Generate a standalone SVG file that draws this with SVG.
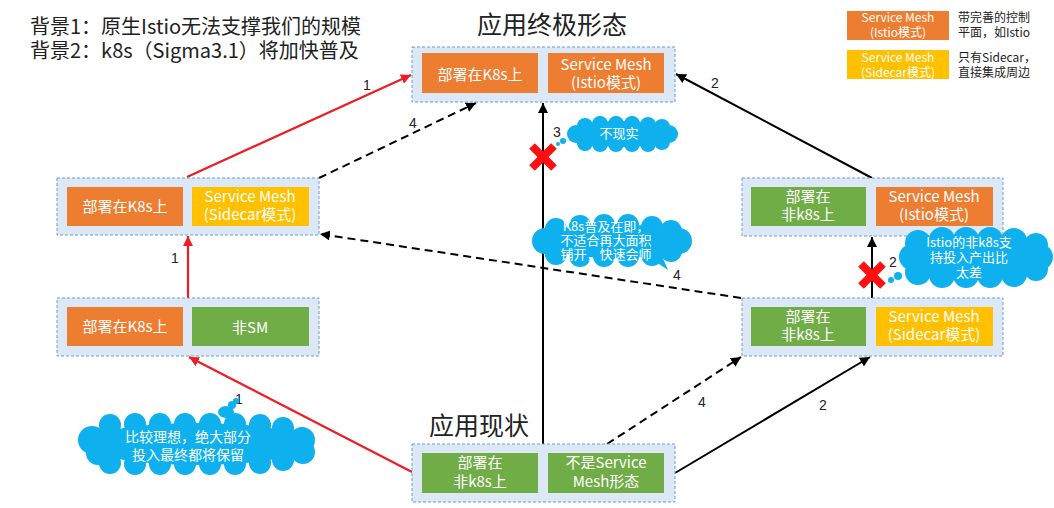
<svg xmlns="http://www.w3.org/2000/svg" width="1054" height="508" viewBox="0 0 1054 508">
<defs>
<style>
text{font-family:"Noto Sans CJK SC","Noto Sans",sans-serif;}
.wrap{fill:#dce8f6;stroke:#6a9fd4;stroke-width:1;stroke-dasharray:3,2;}
.or{fill:#ed7d31;}
.ye{fill:#ffc000;}
.gr{fill:#70ad47;}
.bt{fill:#fff;font-size:15px;text-anchor:middle;}
.ct{fill:#fff;font-size:13px;text-anchor:middle;}
.cloud{fill:#0fb0ee;}
.lbl{font-family:"Liberation Sans",Arial,sans-serif;font-size:14px;fill:#222;text-anchor:middle;}
.title{font-size:25px;fill:#222;text-anchor:middle;}
.red{stroke:#ee1c24;stroke-width:2.2;fill:none;}
.blk{stroke:#000;stroke-width:2;fill:none;}
.dsh{stroke:#000;stroke-width:2;fill:none;stroke-dasharray:8,5;}
.xx{stroke:#ff1010;stroke-width:8;}
</style>
<marker id="ar" viewBox="0 0 10 10" refX="10" refY="5" markerWidth="10" markerHeight="10" markerUnits="userSpaceOnUse" orient="auto"><path d="M0,0 L10,5 L0,10 z" fill="#ee1c24"/></marker>
<marker id="ab" viewBox="0 0 10 10" refX="10" refY="5" markerWidth="10" markerHeight="10" markerUnits="userSpaceOnUse" orient="auto"><path d="M0,0 L10,5 L0,10 z" fill="#000"/></marker>
</defs>
<rect width="1054" height="508" fill="#fff"/>

<g id="background-text">
<text x="30" y="34" font-size="20" fill="#222">背景1：原生Istio无法支撑我们的规模</text>
<text x="30" y="58" font-size="20" fill="#222">背景2：k8s（Sigma3.1）将加快普及</text>
</g>

<g id="legend">
<rect class="or" x="847" y="11" width="102" height="29"/>
<text x="898" y="22" fill="#fff" font-size="12" text-anchor="middle">Service Mesh</text>
<text x="898" y="37" fill="#fff" font-size="12" text-anchor="middle">(Istio模式)</text>
<text x="958" y="22" fill="#222" font-size="12">带完善的控制</text>
<text x="958" y="37" fill="#222" font-size="12">平面，如Istio</text>
<rect class="ye" x="847" y="50" width="102" height="29"/>
<text x="898" y="62" fill="#fff" font-size="12" text-anchor="middle">Service Mesh</text>
<text x="898" y="77" fill="#fff" font-size="12" text-anchor="middle">(Sidecar模式)</text>
<text x="958" y="62" fill="#222" font-size="12">只有Sidecar，</text>
<text x="958" y="77" fill="#222" font-size="12">直接集成周边</text>
</g>

<g id="connectors">
<line class="red" x1="187" y1="177" x2="411" y2="75" marker-end="url(#ar)"/>
<line class="dsh" x1="319" y1="178" x2="476" y2="103" marker-end="url(#ab)"/>
<line class="blk" x1="872" y1="178" x2="676" y2="74" marker-end="url(#ab)"/>
<line class="blk" x1="543" y1="444" x2="543" y2="103" marker-end="url(#ab)"/>
<line class="blk" x1="872" y1="298" x2="872" y2="237" marker-end="url(#ab)"/>
<line class="dsh" x1="741" y1="298" x2="320" y2="234" marker-end="url(#ab)"/>
<line class="red" x1="412" y1="472" x2="189" y2="357" marker-end="url(#ar)"/>
<line class="red" x1="188" y1="298" x2="188" y2="236" marker-end="url(#ar)"/>
<line class="dsh" x1="607" y1="444" x2="741" y2="357" marker-end="url(#ab)"/>
<line class="blk" x1="675" y1="473" x2="870" y2="357" marker-end="url(#ab)"/>
<text class="lbl" x="367" y="90">1</text>
<text class="lbl" x="413" y="128">4</text>
<text class="lbl" x="715" y="88">2</text>
<text class="lbl" x="557" y="137">3</text>
<text class="lbl" x="893" y="267">2</text>
<text class="lbl" x="677" y="280">4</text>
<text class="lbl" x="175" y="263">1</text>
<text class="lbl" x="239" y="404">1</text>
<text class="lbl" x="702" y="407">4</text>
<text class="lbl" x="823" y="410">2</text>
<g id="x-marks">
<line class="xx" x1="532" y1="146" x2="554" y2="168"/><line class="xx" x1="554" y1="146" x2="532" y2="168"/>
<line class="xx" x1="861" y1="264" x2="883" y2="286"/><line class="xx" x1="883" y1="264" x2="861" y2="286"/>
</g>
</g>

<g id="node-target">
<text class="title" x="552" y="34">应用终极形态</text>
<rect class="wrap" x="412" y="47" width="263" height="55"/>
<rect class="or" x="422" y="53" width="116" height="40"/>
<text class="bt" x="480" y="80">部署在K8s上</text>
<rect class="or" x="548" y="53" width="116" height="40"/>
<text class="bt" x="606" y="70">Service Mesh</text>
<text class="bt" x="606" y="88">(Istio模式)</text>
</g>

<g id="node-k8s-sidecar">
<rect class="wrap" x="57" y="178" width="262" height="57"/>
<rect class="or" x="67" y="187" width="116" height="39"/>
<text class="bt" x="125" y="212">部署在K8s上</text>
<rect class="ye" x="192" y="187" width="117" height="39"/>
<text class="bt" x="250" y="202">Service Mesh</text>
<text class="bt" x="250" y="220">(Sidecar模式)</text>
</g>

<g id="node-k8s-nonsm">
<rect class="wrap" x="57" y="298" width="262" height="58"/>
<rect class="or" x="67" y="307" width="116" height="39"/>
<text class="bt" x="125" y="332">部署在K8s上</text>
<rect class="gr" x="192" y="307" width="117" height="39"/>
<text class="bt" x="250" y="333" font-size="18">非SM</text>
</g>

<g id="node-nonk8s-istio">
<rect class="wrap" x="742" y="178" width="261" height="58"/>
<rect class="gr" x="751" y="187" width="115" height="39"/>
<text class="bt" x="808" y="202">部署在</text>
<text class="bt" x="808" y="220">非k8s上</text>
<rect class="or" x="876" y="187" width="117" height="39"/>
<text class="bt" x="934" y="202">Service Mesh</text>
<text class="bt" x="934" y="220">(Istio模式)</text>
</g>

<g id="node-nonk8s-sidecar">
<rect class="wrap" x="742" y="298" width="261" height="58"/>
<rect class="gr" x="751" y="307" width="115" height="39"/>
<text class="bt" x="808" y="322">部署在</text>
<text class="bt" x="808" y="340">非k8s上</text>
<rect class="ye" x="876" y="307" width="117" height="39"/>
<text class="bt" x="934" y="322">Service Mesh</text>
<text class="bt" x="934" y="340">(Sidecar模式)</text>
</g>

<g id="node-current">
<text class="title" x="479" y="435">应用现状</text>
<rect class="wrap" x="412" y="444" width="263" height="58"/>
<rect class="gr" x="422" y="453" width="116" height="40"/>
<text class="bt" x="480" y="468">部署在</text>
<text class="bt" x="480" y="487">非k8s上</text>
<rect class="gr" x="548" y="453" width="116" height="40"/>
<text class="bt" x="606" y="468">不是Service</text>
<text class="bt" x="606" y="487">Mesh形态</text>
</g>

<g id="cloud-unrealistic" class="cloud">
<ellipse cx="622" cy="134" rx="50" ry="13"/>
<circle cx="585" cy="126" r="8"/><circle cx="600" cy="124" r="8"/><circle cx="616" cy="124" r="8"/><circle cx="632" cy="124" r="8"/><circle cx="648" cy="125" r="8"/><circle cx="662" cy="127" r="8"/>
<circle cx="585" cy="143" r="8"/><circle cx="600" cy="144" r="8"/><circle cx="616" cy="144" r="8"/><circle cx="632" cy="144" r="8"/><circle cx="648" cy="144" r="8"/><circle cx="662" cy="142" r="8"/>
<circle cx="576" cy="134" r="9"/><circle cx="669" cy="134" r="9"/>
<circle cx="563" cy="141" r="3"/><circle cx="558" cy="144" r="2"/>
<text class="ct" x="619" y="138" font-size="14">不现实</text>
</g>

<g id="cloud-k8s" class="cloud">
<ellipse cx="612" cy="241" rx="72" ry="17"/>
<circle cx="556" cy="229" r="11"/><circle cx="580" cy="226" r="11"/><circle cx="604" cy="225" r="11"/><circle cx="628" cy="225" r="11"/><circle cx="652" cy="227" r="11"/><circle cx="671" cy="231" r="11"/>
<circle cx="556" cy="254" r="11"/><circle cx="580" cy="256" r="11"/><circle cx="604" cy="256" r="11"/><circle cx="628" cy="256" r="11"/><circle cx="652" cy="255" r="11"/><circle cx="671" cy="251" r="11"/>
<circle cx="545" cy="241" r="13"/><circle cx="679" cy="241" r="13"/>
<path d="M650,258 L668,270 L662,256 z"/>
<text class="ct" x="606" y="231">K8s普及在即，</text>
<text class="ct" x="606" y="245">不适合再大面积</text>
<text class="ct" x="606" y="259">铺开，快速会师</text>
</g>

<g id="cloud-istio" class="cloud">
<ellipse cx="976" cy="257" rx="70" ry="20"/>
<circle cx="918" cy="243" r="13"/><circle cx="942" cy="240" r="13"/><circle cx="966" cy="240" r="13"/><circle cx="990" cy="240" r="13"/><circle cx="1014" cy="241" r="13"/><circle cx="1036" cy="245" r="12"/>
<circle cx="918" cy="272" r="13"/><circle cx="942" cy="275" r="13"/><circle cx="966" cy="275" r="13"/><circle cx="990" cy="275" r="13"/><circle cx="1014" cy="274" r="13"/><circle cx="1036" cy="269" r="12"/>
<circle cx="912" cy="257" r="13"/><circle cx="1040" cy="257" r="13"/>
<circle cx="898" cy="276" r="4"/><circle cx="891" cy="280" r="3"/>
<text class="ct" x="969" y="247">Istio的非k8s支</text>
<text class="ct" x="969" y="262">持投入产出比</text>
<text class="ct" x="969" y="277">太差</text>
</g>

<g id="cloud-ideal" class="cloud">
<ellipse cx="197" cy="444" rx="113" ry="21"/>
<circle cx="110" cy="425" r="11"/><circle cx="135" cy="424" r="11"/><circle cx="160" cy="424" r="11"/><circle cx="185" cy="424" r="11"/><circle cx="210" cy="424" r="11"/><circle cx="235" cy="424" r="11"/><circle cx="260" cy="425" r="11"/><circle cx="283" cy="428" r="11"/>
<circle cx="110" cy="463" r="11"/><circle cx="135" cy="464" r="11"/><circle cx="160" cy="464" r="11"/><circle cx="185" cy="464" r="11"/><circle cx="210" cy="464" r="11"/><circle cx="235" cy="464" r="11"/><circle cx="260" cy="463" r="11"/><circle cx="283" cy="460" r="11"/>
<circle cx="92" cy="440" r="14"/><circle cx="98" cy="453" r="12"/><circle cx="302" cy="440" r="13"/><circle cx="303" cy="452" r="12"/>
<ellipse cx="226" cy="412" rx="8" ry="6"/><circle cx="232" cy="405" r="4"/><circle cx="236" cy="401" r="3"/>
<text x="188" y="442" fill="#fff" font-size="14" text-anchor="middle">比较理想，绝大部分</text>
<text x="188" y="460" fill="#fff" font-size="14" text-anchor="middle">投入最终都将保留</text>
</g>
</svg>
